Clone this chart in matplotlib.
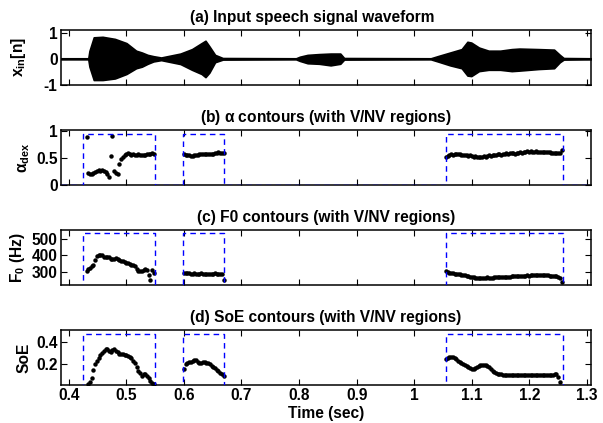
import numpy as np
import matplotlib
matplotlib.use("Agg")
import matplotlib.pyplot as plt
from matplotlib.ticker import FuncFormatter

plt.rcParams['font.family'] = ['Liberation Sans', 'DejaVu Sans']
plt.rcParams['font.weight'] = 'bold'
plt.rcParams['axes.titleweight'] = 'bold'
plt.rcParams['axes.labelweight'] = 'bold'
plt.rcParams['mathtext.fontset'] = 'custom'
plt.rcParams['mathtext.rm'] = 'Liberation Sans:bold'
plt.rcParams['mathtext.it'] = 'Liberation Sans:bold'
plt.rcParams['mathtext.bf'] = 'Liberation Sans:bold'
plt.rcParams['mathtext.default'] = 'rm'

# ---- speech waveform envelope ----
wave_t = [0.387, 0.434, 0.436, 0.4435, 0.4589, 0.4803, 0.5003, 0.5171, 0.5271, 0.5371,
          0.5472, 0.5605, 0.5739, 0.594, 0.6141, 0.6308, 0.6375, 0.6442, 0.6542, 0.6676,
          0.7947, 0.8014, 0.8148, 0.8348, 0.8549, 0.8716, 0.8783, 1.0288, 1.0422, 1.0623,
          1.0824, 1.0924, 1.0991, 1.1125, 1.1292, 1.1493, 1.1693, 1.1827, 1.2161, 1.2429,
          1.2529, 1.2596, 1.307]
wave_hi = [0.02, 0.02, 0.3, 0.82, 0.84, 0.76, 0.6, 0.31, 0.24, 0.15,
           0.1, 0.05, 0.11, 0.2, 0.37, 0.6, 0.69, 0.48, 0.15, 0.03,
           0.02, 0.08, 0.15, 0.18, 0.2, 0.2, 0.03, 0.02, 0.11, 0.24,
           0.37, 0.65, 0.62, 0.43, 0.31, 0.31, 0.37, 0.39, 0.37, 0.35,
           0.15, 0.03, 0.02]
wave_lo = [-0.02, -0.02, -0.3, -0.81, -0.81, -0.75, -0.58, -0.36, -0.3, -0.19,
           -0.1, -0.05, -0.11, -0.2, -0.42, -0.58, -0.7, -0.53, -0.13, -0.03,
           -0.02, -0.08, -0.17, -0.19, -0.25, -0.19, -0.03, -0.02, -0.11, -0.25,
           -0.36, -0.64, -0.66, -0.47, -0.42, -0.42, -0.47, -0.45, -0.39, -0.36,
           -0.13, -0.03, -0.02]

# ---- voiced segments: first frame time, frame step ----
seg_start = [0.431, 0.600, 1.055]
frame_step = 0.003
vnv_edges = [0.425, 0.549, 0.599, 0.670, 1.055, 1.258]

alpha_1 = [0.89, 0.22, 0.21, 0.20, 0.22, 0.24, 0.26, 0.28, 0.27, 0.28,
           0.26, 0.24, 0.20, 0.15, 0.54, 0.92, 0.27, 0.22, 0.20, 0.40,
           0.49, 0.53, 0.56, 0.57, 0.59, 0.57, 0.56, 0.57, 0.56, 0.56,
           0.57, 0.56, 0.56, 0.55, 0.56, 0.57, 0.57, 0.58, 0.59, 0.57]
alpha_2 = [0.58, 0.56, 0.55, 0.55, 0.54, 0.54, 0.55, 0.55, 0.56, 0.57,
           0.57, 0.58, 0.57, 0.58, 0.57, 0.58, 0.58, 0.57, 0.59, 0.60,
           0.61, 0.60, 0.60, 0.59]
alpha_3 = [0.52, 0.54, 0.56, 0.57, 0.56, 0.57, 0.58, 0.58, 0.57, 0.56,
           0.55, 0.56, 0.55, 0.54, 0.55, 0.54, 0.53, 0.54, 0.53, 0.52,
           0.53, 0.53, 0.54, 0.53, 0.54, 0.55, 0.54, 0.55, 0.56, 0.56,
           0.57, 0.57, 0.56, 0.57, 0.58, 0.59, 0.58, 0.59, 0.60, 0.59,
           0.58, 0.59, 0.60, 0.61, 0.60, 0.61, 0.62, 0.63, 0.62, 0.63,
           0.62, 0.62, 0.63, 0.62, 0.62, 0.61, 0.62, 0.61, 0.62, 0.61,
           0.61, 0.60, 0.60, 0.59, 0.60, 0.59, 0.60, 0.66]

f0_1 = [305, 318, 324, 334, 345, 372, 398, 403, 404, 400,
        392, 391, 390, 388, 381, 380, 381, 385, 378, 372,
        366, 364, 362, 357, 352, 346, 342, 340, 336, 320,
        306, 305, 307, 313, 316, 311, 281, 251, 312, 296]
f0_2 = [296, 294, 292, 295, 290, 288, 293, 291, 286, 290,
        292, 288, 287, 289, 290, 291, 289, 290, 292, 288,
        289, 287, 286, 255]
f0_3 = [304, 300, 297, 293, 295, 291, 289, 290, 287, 285,
        282, 280, 278, 275, 272, 270, 268, 267, 266, 266,
        267, 266, 266, 267, 268, 267, 266, 267, 268, 268,
        269, 268, 270, 271, 270, 272, 273, 272, 274, 275,
        274, 276, 277, 276, 278, 279, 278, 280, 279, 280,
        281, 280, 281, 282, 281, 282, 281, 282, 281, 280,
        279, 278, 277, 276, 275, 272, 265, 240]

soe_1 = [np.nan, 0.02, 0.045, 0.08, 0.15, 0.20, 0.235, 0.26, 0.285, 0.305,
         0.325, 0.34, 0.335, 0.32, 0.315, 0.33, 0.335, 0.325, 0.31, 0.295,
         0.29, 0.292, 0.288, 0.282, 0.28, 0.27, 0.255, 0.235, 0.21, 0.18,
         0.145, 0.12, 0.097, 0.11, 0.118, 0.10, 0.08, 0.055, 0.034, 0.025]
soe_2 = [0.16, 0.20, 0.215, 0.22, 0.225, 0.235, 0.244, 0.24, 0.225, 0.21,
         0.215, 0.222, 0.22, 0.215, 0.212, 0.205, 0.19, 0.175, 0.165, 0.15,
         0.14, 0.125, 0.11, 0.097]
soe_3 = [0.246, 0.26, 0.27, 0.27, 0.265, 0.255, 0.245, 0.235, 0.225, 0.215,
         0.205, 0.195, 0.185, 0.175, 0.165, 0.16, 0.162, 0.17, 0.178, 0.186,
         0.192, 0.196, 0.197, 0.194, 0.188, 0.175, 0.16, 0.145, 0.132, 0.122,
         0.116, 0.112, 0.11, 0.108, 0.106, 0.105, 0.104, 0.105, 0.104, 0.103,
         0.104, 0.105, 0.104, 0.103, 0.104, 0.103, 0.104, 0.105, 0.104, 0.103,
         0.104, 0.105, 0.104, 0.105, 0.104, 0.105, 0.106, 0.105, 0.106, 0.105,
         0.106, 0.107, 0.108, 0.112, 0.11, 0.09, 0.046, np.nan]

titles = ['(a) Input speech signal waveform',
          r'(b) $\alpha$ contours (with V/NV regions)',
          '(c) F0 contours (with V/NV regions)',
          '(d) SoE contours (with V/NV regions)']
ylabels = [r'$x_{in}[n]$', r'$\alpha_{dex}$', r'$F_0$ (Hz)', 'SoE']
xticks = [0.4, 0.5, 0.6, 0.7, 0.8, 0.9, 1.0, 1.1, 1.2, 1.3]
xlim = (0.3866, 1.307)

contours = [[alpha_1, alpha_2, alpha_3], [f0_1, f0_2, f0_3], [soe_1, soe_2, soe_3]]
ylims = [(-1, 1.1), (0, 1.025), (222, 552), (0.015, 0.51)]
yticks = [[-1, 0, 1], [0, 0.5, 1], [300, 400, 500], [0.2, 0.4]]
box_lo = [0, 150, 0.0]
box_hi = [0.95, 532, 0.47]

W, H = 603, 423
fig = plt.figure(figsize=(W / 100, H / 100), dpi=100)
tops = [30, 130, 230, 330]
axes = []
for top in tops:
    axes.append(fig.add_axes([61 / W, 1 - (top + 55) / H, 530 / W, 55 / H]))

fs = 11.2
title_x = [0.475, 0.5, 0.5, 0.5]
label_pad = [11, 3, 3, 3]
fmt = FuncFormatter(lambda v, p: f'{v:g}')
for i, ax in enumerate(axes):
    ax.set_xlim(*xlim)
    ax.set_ylim(*ylims[i])
    ax.set_xticks(xticks)
    ax.set_yticks(yticks[i])
    ax.yaxis.set_major_formatter(fmt)
    ax.xaxis.set_major_formatter(fmt)
    ax.tick_params(direction='in', top=True, right=True, length=4, width=0.8,
                   labelsize=fs, pad=2.5)
    for s in ax.spines.values():
        s.set_linewidth(1.1)
    ax.set_title(titles[i], fontsize=fs, pad=6, x=title_x[i])
    ax.set_ylabel(ylabels[i], fontsize=fs, labelpad=label_pad[i])
    if i < 3:
        ax.tick_params(labelbottom=False)

axes[3].set_xlabel('Time (sec)', fontsize=fs, labelpad=2)

# (a) waveform
ax = axes[0]
ax.fill_between(wave_t, wave_lo, wave_hi, color='black', linewidth=1.2)

# (b)-(d) contours and V/NV regions
for j in range(3):
    ax = axes[j + 1]
    for k, vals in enumerate(contours[j]):
        t = seg_start[k] + frame_step * np.arange(len(vals))
        ax.plot(t, vals, 'o', color='black', markersize=3.2, markeredgewidth=0)
    xs = [xlim[0]]
    ys = [box_lo[j]]
    for n in range(0, len(vnv_edges), 2):
        xs += [vnv_edges[n], vnv_edges[n], vnv_edges[n + 1], vnv_edges[n + 1]]
        ys += [box_lo[j], box_hi[j], box_hi[j], box_lo[j]]
    xs.append(xlim[1])
    ys.append(box_lo[j])
    ax.plot(xs, ys, '--', color='blue', linewidth=1.0, dashes=(4, 3), zorder=3)

fig.savefig('out.png', dpi=100)
